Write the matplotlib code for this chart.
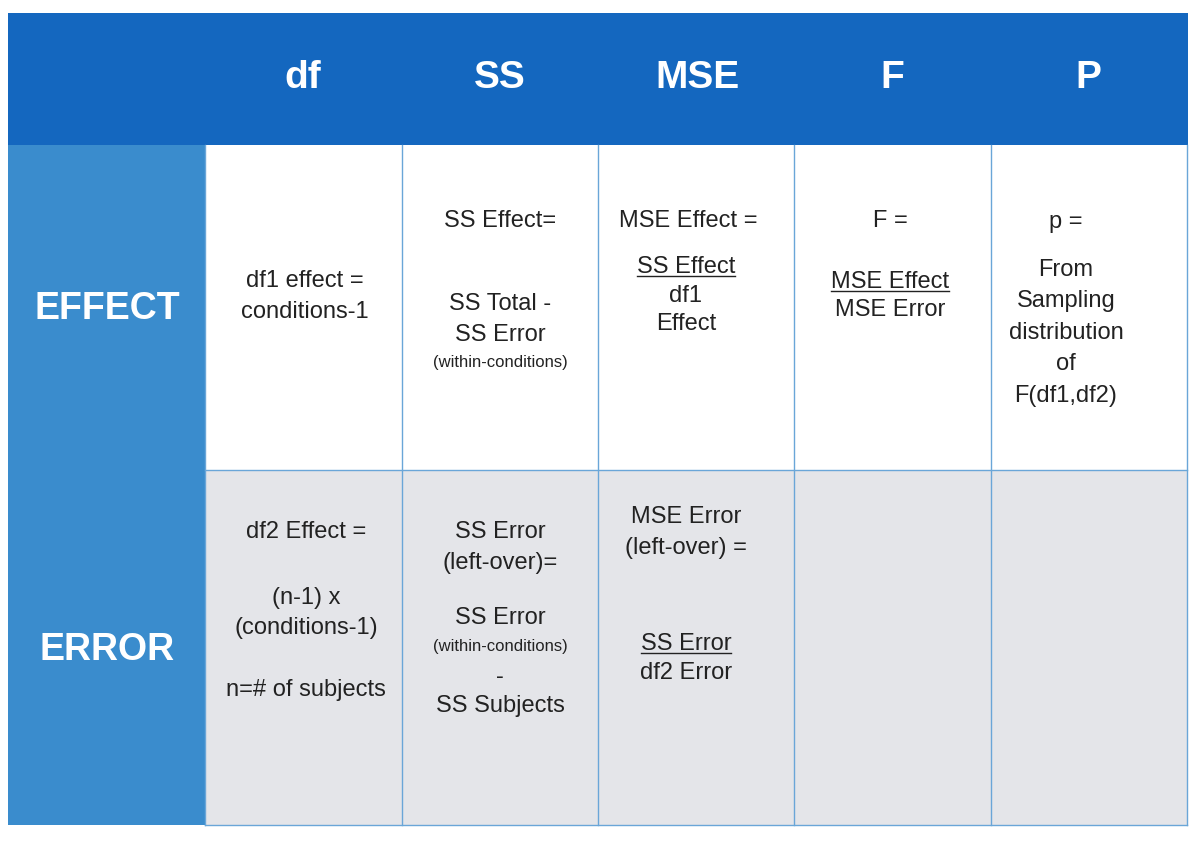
import matplotlib
matplotlib.use("Agg")
import matplotlib.pyplot as plt
from matplotlib.patches import Rectangle

plt.rcParams['font.family'] = ['Liberation Sans', 'DejaVu Sans']

col_headers = ["df", "SS", "MSE", "F", "P"]
row_labels = ["EFFECT", "ERROR"]
# each cell: list of (text, style) ; style: n normal, u underline, s small
cells = {
    (0, 0): [("df1 effect =", "n"), ("conditions-1", "n")],
    (0, 1): [("SS Effect=", "n"), ("SS Total -", "n"), ("SS Error", "n"), ("(within-conditions)", "s")],
    (0, 2): [("MSE Effect =", "n"), ("SS Effect", "u"), ("df1", "n"), ("Effect", "n")],
    (0, 3): [("F =", "n"), ("MSE Effect", "u"), ("MSE Error", "n")],
    (0, 4): [("p =", "n"), ("From", "n"), ("Sampling", "n"), ("distribution", "n"), ("of", "n"), ("F(df1,df2)", "n")],
    (1, 0): [("df2 Effect =", "n"), ("(n-1) x", "n"), ("(conditions-1)", "n"), ("n=# of subjects", "n")],
    (1, 1): [("SS Error", "n"), ("(left-over)=", "n"), ("SS Error", "n"), ("(within-conditions)", "s"), ("-", "n"), ("SS Subjects", "n")],
    (1, 2): [("MSE Error", "n"), ("(left-over) =", "n"), ("SS Error", "u"), ("df2 Error", "n")],
}

# layout (pixels)
W, H = 1200, 844
col_edges = [205, 402, 598, 794, 991, 1187]
header_y = (13, 145)
row_edges = [145, 470, 825]
header_x = [303, 500, 697, 892, 1088]
line_y = {
    (0, 0): [281, 312], (0, 1): [221, 304, 335, 363], (0, 2): [221, 267, 296, 324],
    (0, 3): [221, 282, 310], (0, 4): [222, 270, 301, 333, 364, 396],
    (1, 0): [532, 598, 628, 690], (1, 1): [532, 563, 618, 646, 677, 706],
    (1, 2): [517, 548, 644, 673],
}
cell_x = {(0, 0): 305, (0, 1): 500, (0, 2): 688, (0, 3): 890, (0, 4): 1066,
          (1, 0): 306, (1, 1): 500, (1, 2): 686}
line_x_override = {(0, 2): [688, 686, 686, 686]}

fig = plt.figure(figsize=(12, 8.44), dpi=100)
ax = fig.add_axes([0, 0, 1, 1])
ax.set_xlim(0, W); ax.set_ylim(H, 0); ax.axis('off')

dark = "#1467bf"; light = "#3a8ccd"; grey = "#e4e5e9"; line_c = "#6aa6d8"
ax.add_patch(Rectangle((8, header_y[0]), 1180, header_y[1] - header_y[0], color=dark, lw=0))
ax.add_patch(Rectangle((8, row_edges[0]), col_edges[0] - 8, row_edges[2] - row_edges[0], color=light, lw=0))
ax.add_patch(Rectangle((col_edges[0], row_edges[1]), col_edges[-1] - col_edges[0],
                       row_edges[2] - row_edges[1], color=grey, lw=0))
for x in col_edges:
    ax.plot([x, x], [row_edges[0], row_edges[2]], color=line_c, lw=1)
for y in row_edges[1:]:
    ax.plot([col_edges[0], col_edges[-1]], [y, y], color=line_c, lw=1)

for x, h in zip(header_x, col_headers):
    ax.text(x, 78, h, color="white", fontsize=28, fontweight="bold", ha="center", va="center")
for y, r in zip([309, 650], row_labels):
    ax.text(107, y, r, color="white", fontsize=27, fontweight="bold", ha="center", va="center")

underlined = []
for key, lines in cells.items():
    for i, ((t, st), y) in enumerate(zip(lines, line_y[key])):
        x = line_x_override.get(key, None)
        x = x[i] if x else cell_x[key]
        fs = 12 if st == "s" else 17
        txt = ax.text(x, y, t, fontsize=fs, color="#222222", ha="center", va="center")
        if st == "u":
            underlined.append(txt)

fig.canvas.draw()
r = fig.canvas.get_renderer()
inv = ax.transData.inverted()
for txt in underlined:
    bb = txt.get_window_extent(r)
    (x0, y0), (x1, y1) = inv.transform([(bb.x0, bb.y0), (bb.x1, bb.y1)])
    ax.plot([x0, x1], [y0 - 2, y0 - 2], color="#222222", lw=1)

fig.savefig("out.png", dpi=100, facecolor="white")
